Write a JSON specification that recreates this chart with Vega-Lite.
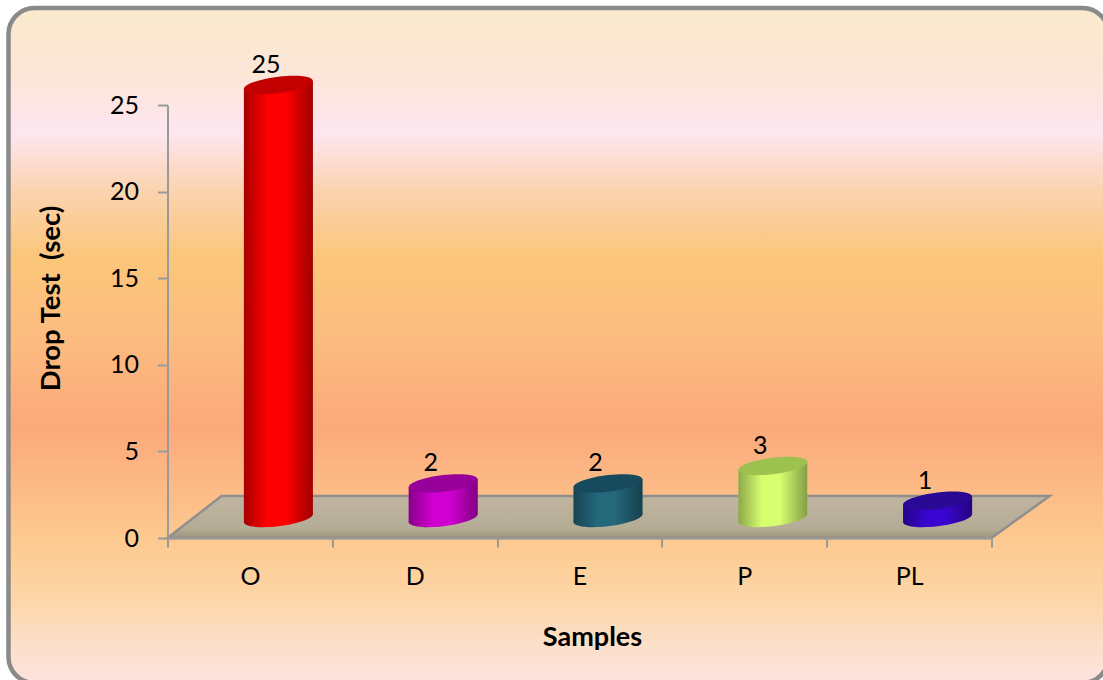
{
  "$schema": "https://vega.github.io/schema/vega-lite/v6.json",
  "width": 1100,
  "height": 675,
  "autosize": "none",
  "padding": {"left": 8.5, "top": 8, "right": 0, "bottom": 0},
  "background": "#ffffff",
  "config": {
    "font": "Lato",
    "view": {
      "cornerRadius": 26,
      "stroke": "#8a8a8a",
      "strokeWidth": 4.5,
      "fill": {
        "gradient": "linear", "x1": 0, "y1": 0, "x2": 0, "y2": 1,
        "stops": [
          {"offset": 0.0, "color": "#faeacb"},
          {"offset": 0.10, "color": "#fce6d8"},
          {"offset": 0.185, "color": "#fde6f0"},
          {"offset": 0.27, "color": "#fbd3b0"},
          {"offset": 0.37, "color": "#fbc67a"},
          {"offset": 0.48, "color": "#fcbd80"},
          {"offset": 0.62, "color": "#fba97a"},
          {"offset": 0.79, "color": "#fdca90"},
          {"offset": 0.87, "color": "#fdd5a5"},
          {"offset": 0.94, "color": "#fcdfc8"},
          {"offset": 1.0, "color": "#fce3de"}
        ]
      }
    }
  },
  "datasets": {
    "drop": [
      {"sample": "O", "value": 25},
      {"sample": "D", "value": 2},
      {"sample": "E", "value": 2},
      {"sample": "P", "value": 3},
      {"sample": "PL", "value": 1}
    ],
    "floor": [
      {"slot": 0, "back": 0, "front": 0},
      {"slot": 0.328, "back": 2.425, "front": 0},
      {"slot": 5, "back": 2.425, "front": 0},
      {"slot": 5.352, "back": 2.425, "front": 2.425}
    ]
  },
  "resolve": {"scale": {"x": "independent", "color": "independent"}},
  "layer": [
    {
      "data": {"name": "floor"},
      "mark": {
        "type": "area",
        "stroke": "#8f8f8f",
        "strokeWidth": 2.5,
        "fill": {
          "gradient": "linear", "x1": 0, "y1": 0, "x2": 0, "y2": 1,
          "stops": [
            {"offset": 0, "color": "#c0b5a0"},
            {"offset": 0.78, "color": "#b5ac96"},
            {"offset": 1, "color": "#9c937c"}
          ]
        }
      },
      "encoding": {
        "x": {"field": "slot", "type": "quantitative", "axis": null,
              "scale": {"domain": [0, 5], "range": [159, 983], "nice": false, "zero": false}},
        "y": {"field": "back", "type": "quantitative",
              "scale": {"domain": [0, 25], "range": [530, 97], "nice": false},
              "axis": {
                "title": "Drop Test \u00a0(sec)", "titleFont": "Lato", "titleFontSize": 27.5, "titleFontWeight": "bold", "titleColor": "#000000",
                "titleX": -102, "titleY": 290, "titleAngle": -90,
                "offset": -159, "values": [0, 5, 10, 15, 20, 25], "grid": false, "zindex": 1,
                "domainColor": "#9a9a9a", "domainWidth": 2, "tickColor": "#9a9a9a", "tickWidth": 2, "tickSize": 10,
                "labelFontSize": 25, "labelColor": "#000000", "labelPadding": 19
              }},
        "y2": {"field": "front"}
      }
    },
    {
      "data": {"name": "drop"},
      "mark": {"type": "point", "filled": true, "opacity": 1, "size": 4761, "xOffset": 28.5, "yOffset": -20,
               "shape": "M1,-.115C1,.0175,.5523,.1765,0,.24C-.5523,.3035,-1,.2475,-1,.115C-1,-.0175,-.5523,-.1765,0,-.24C.5523,-.3035,1,-.2475,1,-.115Z"},
      "encoding": {
        "x": {"field": "sample", "type": "nominal",
              "scale": {"domain": ["O", "D", "E", "P", "PL"], "range": [159, 983], "paddingInner": 0, "paddingOuter": 0},
              "axis": {
                "title": "Samples", "titleFont": "Lato", "titleFontSize": 27, "titleFontWeight": "bold", "titleColor": "#000000",
                "titleX": 583.5, "titleY": 86,
                "offset": -145, "tickBand": "extent", "labelAngle": 0, "zindex": 1,
                "domainColor": "#9a9a9a", "domainWidth": 2, "tickColor": "#9a9a9a", "tickWidth": 2, "tickSize": 9,
                "labelFontSize": 25, "labelColor": "#000000", "labelPadding": 17
              }},
        "y": {"datum": 0},
        "color": {"field": "sample", "type": "nominal", "legend": null,
          "scale": {"domain": ["O", "D", "E", "P", "PL"], "range": ["#ff0000", "#d000d0", "#24687c", "#d6ff70", "#3a05d0"]}}
      }
    },
    {
      "data": {"name": "drop"},
      "mark": {"type": "point", "filled": true, "opacity": 1, "size": 4761, "xOffset": 28.5, "yOffset": -20,
               "shape": "M1,-.115C1,.0175,.5523,.1765,0,.24C-.5523,.3035,-1,.2475,-1,.115C-1,-.0175,-.5523,-.1765,0,-.24C.5523,-.3035,1,-.2475,1,-.115Z",
               "fill": {"gradient": "linear", "x1": 0, "y1": 0, "x2": 1, "y2": 0, "stops": [
                 {"offset": 0, "color": "rgba(0,0,0,0.34)"}, {"offset": 0.35, "color": "rgba(0,0,0,0)"},
                 {"offset": 0.6, "color": "rgba(0,0,0,0)"}, {"offset": 1, "color": "rgba(0,0,0,0.38)"}]}},
      "encoding": {
        "x": {"field": "sample", "type": "nominal", "axis": null,
              "scale": {"domain": ["O", "D", "E", "P", "PL"], "range": [159, 983], "paddingInner": 0, "paddingOuter": 0}},
        "y": {"datum": 0}
      }
    },
    {
      "data": {"name": "drop"},
      "mark": {"type": "bar", "width": 35.5, "xOffset": 11.75, "yOffset": -16, "y2Offset": -16},
      "encoding": {
        "x": {"field": "sample", "type": "nominal", "axis": null,
              "scale": {"domain": ["O", "D", "E", "P", "PL"], "range": [159, 983], "paddingInner": 0, "paddingOuter": 0}},
        "y": {"field": "value", "type": "quantitative"},
        "y2": {"datum": 0},
        "color": {"field": "sample", "type": "nominal", "legend": null,
          "scale": {"domain": ["O", "D", "E", "P", "PL"], "range": ["#ff0000", "#d000d0", "#24687c", "#d6ff70", "#3a05d0"]}}
      }
    },
    {
      "data": {"name": "drop"},
      "mark": {"type": "bar", "width": 34.5, "xOffset": 45.75, "yOffset": -24, "y2Offset": -24},
      "encoding": {
        "x": {"field": "sample", "type": "nominal", "axis": null,
              "scale": {"domain": ["O", "D", "E", "P", "PL"], "range": [159, 983], "paddingInner": 0, "paddingOuter": 0}},
        "y": {"field": "value", "type": "quantitative"},
        "y2": {"datum": 0},
        "color": {"field": "sample", "type": "nominal", "legend": null,
          "scale": {"domain": ["O", "D", "E", "P", "PL"], "range": ["#ff0000", "#d000d0", "#24687c", "#d6ff70", "#3a05d0"]}}
      }
    },
    {
      "data": {"name": "drop"},
      "mark": {"type": "bar", "width": 34.5, "xOffset": 11.25, "yOffset": -16, "y2Offset": -16,
               "fill": {"gradient": "linear", "x1": 0, "y1": 0, "x2": 1, "y2": 0, "stops": [
                 {"offset": 0, "color": "rgba(0,0,0,0.34)"}, {"offset": 0.7, "color": "rgba(0,0,0,0)"}, {"offset": 1, "color": "rgba(0,0,0,0)"}]}},
      "encoding": {
        "x": {"field": "sample", "type": "nominal", "axis": null,
              "scale": {"domain": ["O", "D", "E", "P", "PL"], "range": [159, 983], "paddingInner": 0, "paddingOuter": 0}},
        "y": {"field": "value", "type": "quantitative"},
        "y2": {"datum": 0}
      }
    },
    {
      "data": {"name": "drop"},
      "mark": {"type": "bar", "width": 34.5, "xOffset": 45.75, "yOffset": -24, "y2Offset": -24,
               "fill": {"gradient": "linear", "x1": 0, "y1": 0, "x2": 1, "y2": 0, "stops": [
                 {"offset": 0, "color": "rgba(0,0,0,0)"}, {"offset": 0.2, "color": "rgba(0,0,0,0)"}, {"offset": 1, "color": "rgba(0,0,0,0.38)"}]}},
      "encoding": {
        "x": {"field": "sample", "type": "nominal", "axis": null,
              "scale": {"domain": ["O", "D", "E", "P", "PL"], "range": [159, 983], "paddingInner": 0, "paddingOuter": 0}},
        "y": {"field": "value", "type": "quantitative"},
        "y2": {"datum": 0}
      }
    },
    {
      "data": {"name": "drop"},
      "mark": {"type": "point", "filled": true, "opacity": 1, "size": 4761, "xOffset": 28.5, "yOffset": -20,
               "shape": "M1,-.115C1,.0175,.5523,.1765,0,.24C-.5523,.3035,-1,.2475,-1,.115C-1,-.0175,-.5523,-.1765,0,-.24C.5523,-.3035,1,-.2475,1,-.115Z"},
      "encoding": {
        "x": {"field": "sample", "type": "nominal", "axis": null,
              "scale": {"domain": ["O", "D", "E", "P", "PL"], "range": [159, 983], "paddingInner": 0, "paddingOuter": 0}},
        "y": {"field": "value", "type": "quantitative"},
        "color": {"field": "sample", "type": "nominal", "legend": null,
          "scale": {"domain": ["O", "D", "E", "P", "PL"], "range": ["#c20000", "#98009a", "#174a5c", "#9cc14e", "#2a0a95"]}}
      }
    },
    {
      "data": {"name": "drop"},
      "mark": {"type": "text", "fontSize": 25, "color": "#000000", "dx": 16, "dy": -40, "baseline": "middle"},
      "encoding": {
        "x": {"field": "sample", "type": "nominal", "axis": null,
              "scale": {"domain": ["O", "D", "E", "P", "PL"], "range": [159, 983], "paddingInner": 0, "paddingOuter": 0}},
        "y": {"field": "value", "type": "quantitative"},
        "text": {"field": "value", "type": "quantitative"}
      }
    }
  ]
}
